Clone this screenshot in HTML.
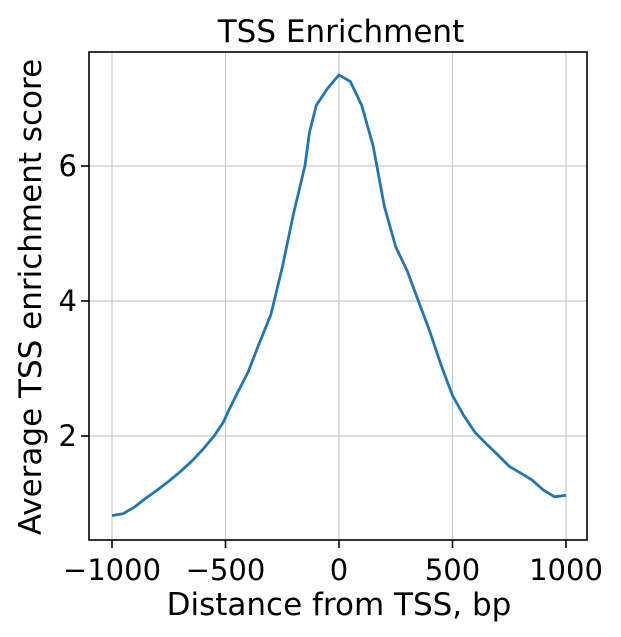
<!DOCTYPE html>
<html><head><meta charset="utf-8"><style>body{margin:0;background:#fff}svg{display:block}text{font-family:"DejaVu Sans","Liberation Sans",sans-serif;fill:#000}</style></head>
<body>
<svg id="s" width="621" height="637" viewBox="0 0 621 637">
<rect width="621" height="637" fill="#fff"/>
<g stroke="#cccccc" stroke-width="1.3">
<line x1="112" y1="52" x2="112" y2="540"/><line x1="225.5" y1="52" x2="225.5" y2="540"/><line x1="339" y1="52" x2="339" y2="540"/><line x1="452.5" y1="52" x2="452.5" y2="540"/><line x1="566" y1="52" x2="566" y2="540"/>
<line x1="89" y1="166" x2="587" y2="166"/><line x1="89" y1="301" x2="587" y2="301"/><line x1="89" y1="436" x2="587" y2="436"/>
</g>
<path id="c" fill="none" stroke="#1f77b4" stroke-width="2.8" stroke-linejoin="round"/>
<rect x="89" y="52" width="498" height="488" fill="none" stroke="#000" stroke-width="1.6"/>
<g stroke="#000" stroke-width="1.6">
<line x1="112" y1="540" x2="112" y2="548"/><line x1="225.5" y1="540" x2="225.5" y2="548"/><line x1="339" y1="540" x2="339" y2="548"/><line x1="452.5" y1="540" x2="452.5" y2="548"/><line x1="566" y1="540" x2="566" y2="548"/>
<line x1="81" y1="166" x2="89" y2="166"/><line x1="81" y1="301" x2="89" y2="301"/><line x1="81" y1="436" x2="89" y2="436"/>
</g>
<g font-size="29" text-anchor="middle">
<text x="112" y="580">−1000</text><text x="225.5" y="580">−500</text><text x="339" y="580">0</text><text x="452.5" y="580">500</text><text x="566" y="580">1000</text>
</g>
<g font-size="29" text-anchor="end">
<text x="77" y="176">6</text><text x="77" y="311">4</text><text x="77" y="446">2</text>
</g>
<text x="339" y="615" font-size="31" text-anchor="middle">Distance from TSS, bp</text>
<text x="341" y="42" font-size="31" text-anchor="middle">TSS Enrichment</text>
<text transform="translate(41,297) rotate(-90)" font-size="31" text-anchor="middle">Average TSS enrichment score</text>
</svg>
<script>
var d=[[-1000,.82],[-950,.85],[-900,.95],[-850,1.08],[-800,1.2],[-750,1.33],[-700,1.47],[-650,1.62],[-600,1.8],[-550,2.0],[-510,2.2],[-490,2.35],[-450,2.62],[-400,2.95],[-360,3.3],[-300,3.8],[-250,4.5],[-200,5.3],[-150,6.0],[-130,6.5],[-100,6.9],[-50,7.15],[0,7.35],[50,7.25],[100,6.9],[150,6.3],[200,5.4],[250,4.8],[300,4.45],[350,4.0],[400,3.55],[450,3.05],[500,2.6],[550,2.3],[600,2.05],[650,1.88],[700,1.72],[750,1.55],[800,1.45],[850,1.35],[900,1.2],[950,1.1],[1000,1.12]];
var p=d.map(function(a,i){return (i?'L':'M')+(339+a[0]*0.227).toFixed(1)+' '+(436-(a[1]-2)*67.5).toFixed(1)}).join(' ');
document.getElementById('c').setAttribute('d',p);
</script>
</body></html>
